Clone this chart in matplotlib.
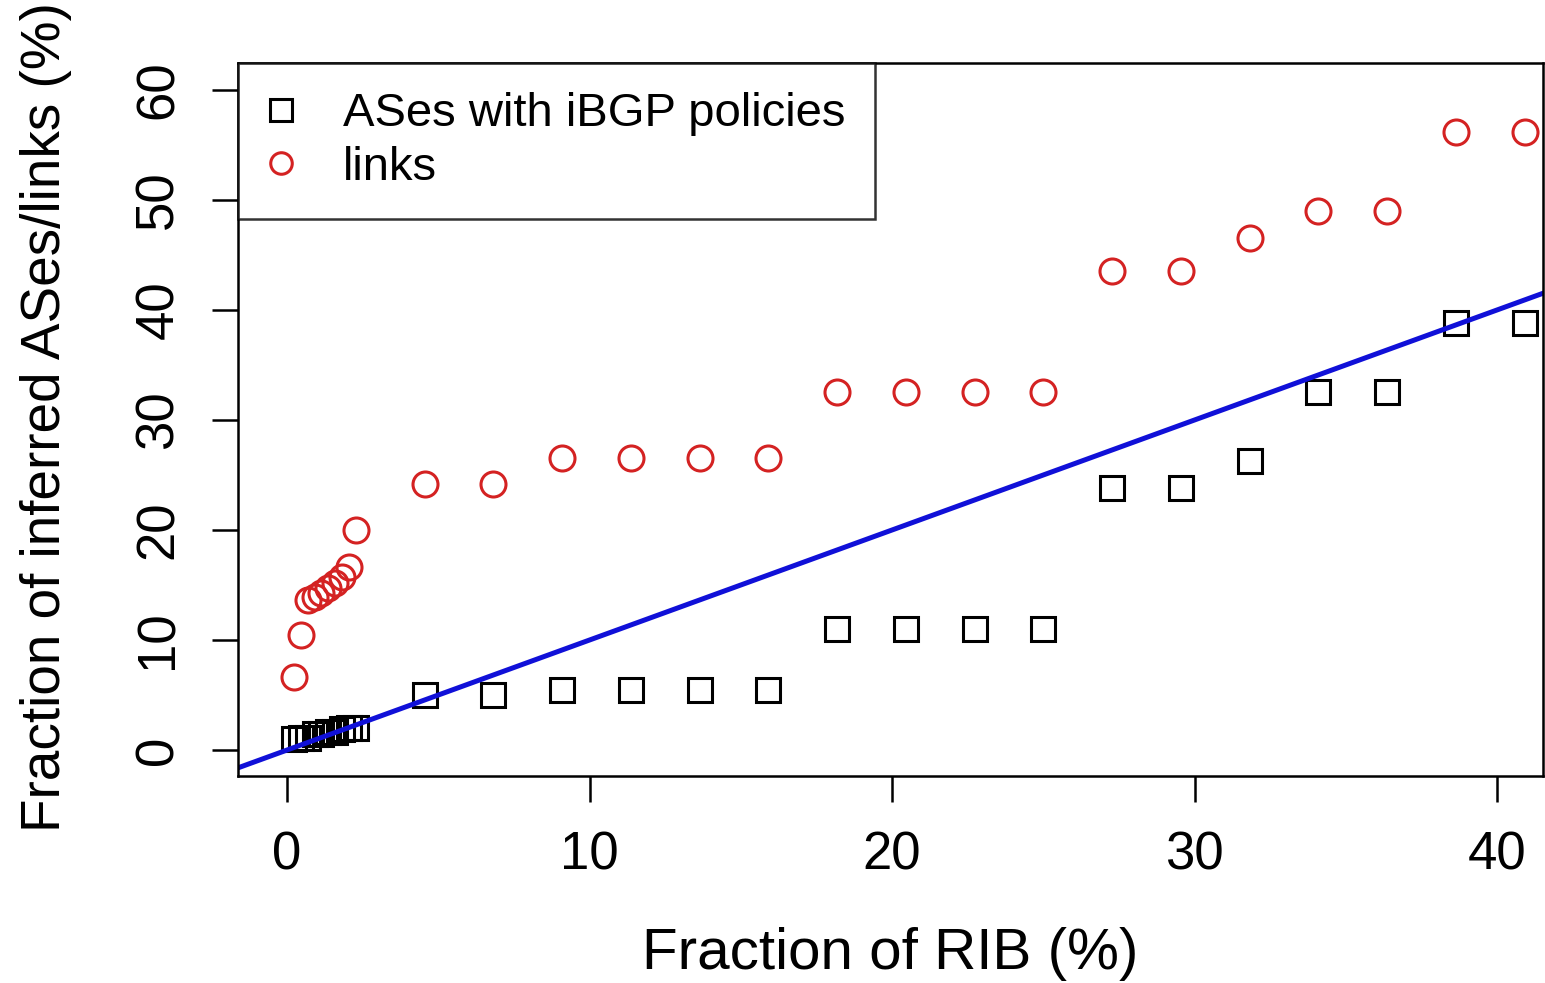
import matplotlib
matplotlib.use("Agg")
import matplotlib.pyplot as plt
import numpy as np

plt.rcParams['font.family'] = ['Liberation Sans', 'DejaVu Sans']

# Fraction of RIB (%)
rib_x = [0.23, 0.45, 0.68, 0.91, 1.14, 1.36, 1.59, 1.82, 2.05, 2.27,
         4.55, 6.82, 9.09, 11.36, 13.64, 15.91, 18.18, 20.45, 22.73, 25.00,
         27.27, 29.55, 31.82, 34.09, 36.36, 38.64, 40.91]
# ASes with iBGP policies (%)
ases_y = [1.0, 1.1, 1.1, 1.5, 1.5, 1.6, 1.6, 1.9, 2.0, 2.0,
          5.0, 5.0, 5.45, 5.45, 5.45, 5.45, 11.0, 11.0, 11.0, 11.0,
          23.8, 23.8, 26.3, 32.5, 32.5, 38.8, 38.8]
# links (%)
links_y = [6.6, 10.5, 13.6, 13.9, 14.3, 14.7, 15.2, 15.7, 16.6, 20.0,
           24.2, 24.2, 26.5, 26.5, 26.5, 26.5, 32.5, 32.5, 32.5, 32.5,
           43.5, 43.5, 46.5, 49.0, 49.0, 56.2, 56.2]

series_labels = ["ASes with iBGP policies", "links"]
xticks = [0, 10, 20, 30, 40]
yticks = [0, 10, 20, 30, 40, 50, 60]
xlabel = "Fraction of RIB (%)"
ylabel = "Fraction of inferred ASes/links (%)"

fig = plt.figure(figsize=(15.45, 9.83), dpi=100)
ax = fig.add_axes([238/1545, 1-776/983, (1543-238)/1545, (776-63)/983])

red = '#D42222'
ax.plot(rib_x, ases_y, linestyle='none', marker='s', markersize=17.5,
        markerfacecolor='none', markeredgecolor='black', markeredgewidth=2.2,
        label=series_labels[0])
ax.plot(rib_x, links_y, linestyle='none', marker='o', markersize=18,
        markerfacecolor='none', markeredgecolor=red, markeredgewidth=2.2,
        label=series_labels[1])
ax.axline((0, 0), slope=1, color='#1010D8', linewidth=3.6)

ax.set_xlim(-1.62, 41.52)
ax.set_ylim(-2.36, 62.45)
ax.set_xticks(xticks)
ax.set_yticks(yticks)

for s in ax.spines.values():
    s.set_linewidth(1.8)
    s.set_color('black')

ax.tick_params(axis='both', direction='out', length=19, width=1.8,
               labelsize=38, pad=20)
ax.tick_params(axis='y', labelrotation=90)
for lab in ax.get_yticklabels():
    lab.set_va('center')

ax.set_xlabel(xlabel, fontsize=42)
ax.xaxis.set_label_coords(0.5, -0.212)
ax.set_ylabel(ylabel, fontsize=39.5)
ax.yaxis.set_label_coords(-0.127, 0.503)

leg = ax.legend(loc='upper left', bbox_to_anchor=(0, 1), borderaxespad=0,
                fontsize=34, frameon=True, fancybox=False,
                handletextpad=1.0, borderpad=0.62, labelspacing=0.2,
                handlelength=0.6)
leg.get_frame().set_edgecolor('black')
leg.get_frame().set_linewidth(1.8)
for h in leg.legend_handles:
    h.set_markersize(15.5)

fig.savefig('out.png', dpi=100, facecolor='white')
